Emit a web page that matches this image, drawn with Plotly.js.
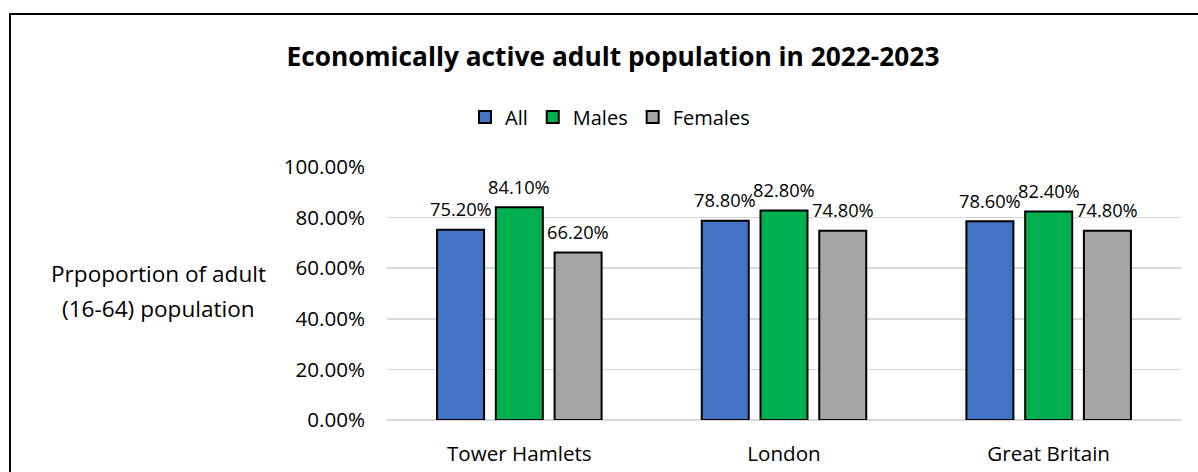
<!DOCTYPE html>
<html>
<head>
<meta charset="utf-8">
<script src="https://cdn.plot.ly/plotly-3.0.1.min.js"></script>
<style>
html,body{margin:0;padding:0;background:#fff;}
#wrap{position:relative;width:1198px;height:472px;overflow:hidden;}
#chart{position:absolute;left:0;top:0;width:1198px;height:472px;}
#frame{position:absolute;left:9px;top:13px;width:1300px;height:600px;border-left:2px solid #000;border-top:2px solid #000;pointer-events:none;}
</style>
</head>
<body>
<div id="wrap"><div id="chart"></div><div id="frame"></div></div>
<script>
const categories = ["Tower Hamlets", "London", "Great Britain"];
const seriesNames = ["All", "Males", "Females"];
const allValues = [0.752, 0.788, 0.786];
const malesValues = [0.841, 0.828, 0.824];
const femalesValues = [0.662, 0.748, 0.748];
const yTickValues = [0, 0.2, 0.4, 0.6, 0.8, 1.0];
const titleText = "Economically active adult population in 2022-2023";
const yTitleLines = ["Prpoportion of adult", "(16-64) population"];

const colors = ["#4472C4", "#00B050", "#A5A5A5"];
const FONT = "'Open Sans', 'Noto Sans', sans-serif";
const values = [allValues, malesValues, femalesValues];
const BARGAP = 0.334;
const nSeries = seriesNames.length;
const slot = (1 - BARGAP) / nSeries;

const traces = seriesNames.map((name, i) => ({
  type: "bar",
  name: name,
  x: categories,
  y: values[i],
  marker: {color: colors[i], line: {color: "#000", width: 2}},
  hoverinfo: "skip"
}));

// data labels placed through the axes' own scales (category index + group offset)
const labelAnnotations = [];
values.forEach((vals, j) => {
  vals.forEach((v, i) => {
    labelAnnotations.push({
      xref: "x", yref: "y",
      x: i + (j - (nSeries - 1) / 2) * slot,
      y: v,
      text: (v * 100).toFixed(2) + "%",
      showarrow: false,
      xanchor: "center", yanchor: "middle",
      yshift: 21,
      font: {family: FONT, size: 18.3, color: "#000"}
    });
  });
});

const titleAnnotations = yTitleLines.map((t, i) => ({
  text: t,
  xref: "paper", x: (158 - 387) / 794, xanchor: "center",
  yref: "paper", y: (420 - [273, 308][i]) / 253, yanchor: "middle",
  showarrow: false,
  font: {family: FONT, size: 22.6, color: "#000"}
}));

const layout = {
  width: 1198, height: 472,
  margin: {l: 387, r: 17, t: 167, b: 52},
  paper_bgcolor: "rgba(0,0,0,0)",
  plot_bgcolor: "rgba(0,0,0,0)",
  font: {family: FONT, color: "#000"},
  barmode: "group",
  bargap: BARGAP,
  bargroupgap: 0.2,
  title: {
    text: "<b>" + titleText + "</b>",
    font: {family: FONT, size: 26.3, color: "#000"},
    xref: "container", x: 613 / 1198, xanchor: "center",
    yref: "container", y: 1 - 57 / 472, yanchor: "middle"
  },
  legend: {
    orientation: "h",
    xref: "container", x: 610 / 1198, xanchor: "center",
    yref: "container", y: 1 - 117 / 472, yanchor: "middle",
    font: {family: FONT, size: 20, color: "#000"},
    itemwidth: 30,
    tracegroupgap: 0
  },
  xaxis: {
    type: "category",
    showgrid: false,
    showline: false,
    ticks: "",
    tickfont: {family: FONT, size: 20.6, color: "#000"},
    ticklabelstandoff: 19
  },
  yaxis: {
    range: [0, 1],
    tickvals: yTickValues,
    tickformat: ".2%",
    showgrid: true,
    gridcolor: "#D9D9D9",
    gridwidth: 1.5,
    zeroline: true,
    zerolinecolor: "#D9D9D9",
    zerolinewidth: 2,
    showline: false,
    ticks: "",
    tickfont: {family: FONT, size: 20.6, color: "#000"},
    ticklabelstandoff: 21
  },
  annotations: labelAnnotations.concat(titleAnnotations)
};

Plotly.newPlot("chart", traces, layout, {displayModeBar: false, staticPlot: true});
</script>
</body>
</html>
